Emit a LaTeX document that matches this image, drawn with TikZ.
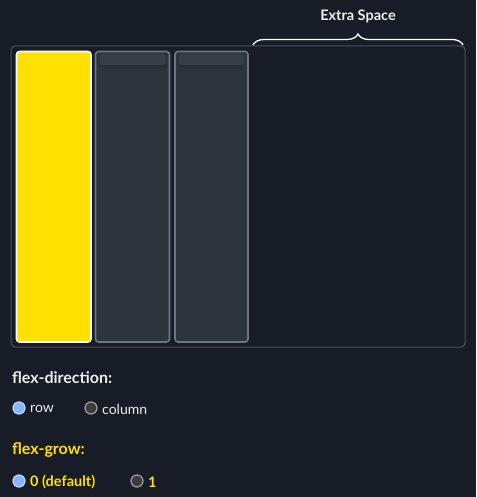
\documentclass[tikz,border=0pt]{standalone}
\usepackage{fontspec}
\setmainfont{Lato}
\usetikzlibrary{decorations.pathreplacing}
\definecolor{bg}{HTML}{171C27}
\definecolor{frame}{HTML}{4A525E}
\definecolor{boxfill}{HTML}{2E343E}
\definecolor{boxedge}{HTML}{6E7682}
\definecolor{yel}{HTML}{FFE000}
\definecolor{txt}{HTML}{EDEDED}
\definecolor{radiosel}{HTML}{8AB4F8}
\definecolor{radiooff}{HTML}{3C3C3C}
\tikzset{
  item/.style={draw=boxedge, line width=1.6pt, fill=boxfill, rounded corners=3pt},
  yitem/.style={draw=white, line width=1.6pt, fill=yel, rounded corners=3pt},
  lbl/.style={anchor=west, inner sep=0pt, font=\fontsize{14}{16}\selectfont, text=txt},
  ylbl/.style={anchor=west, inner sep=0pt, font=\fontsize{14.5}{17}\selectfont\bfseries, text=yel},
  head/.style={anchor=west, inner sep=0pt, font=\fontsize{16}{19}\selectfont\bfseries},
  radsel/.style={circle, draw=radiosel!55!white, line width=1.2pt, fill=radiosel, minimum size=12pt, inner sep=0pt},
  radoff/.style={circle, draw=gray!75, line width=1.2pt, fill=radiooff, minimum size=12pt, inner sep=0pt},
}
\begin{document}
\begin{tikzpicture}[x=1pt,y=-1pt]
\fill[bg] (0,0) rectangle (476,497);
\useasboundingbox (0,0) rectangle (476,497);
% container
\draw[frame, line width=1pt, rounded corners=4pt] (11,46) rectangle (465,347);
% items
\draw[yitem] (16.5,51.5) rectangle (91,342);
\draw[item] (95.5,51.5) rectangle (169.5,342);
\draw[item] (175,51.5) rectangle (248,342);
% top highlight
\foreach \xa/\xb in {96.5/168.5,176/247}{
  \fill[white, opacity=0.05, rounded corners=3pt] (\xa+3,54) rectangle (\xb-3,65);
  \fill[black, opacity=0.10] (\xa+3,65) rectangle (\xb-3,68);
}
% brace
\coordinate (b1) at (253,45);
\coordinate (b2) at (463,45);
\draw[white, line width=1.3pt, decorate, decoration={brace, amplitude=11pt, aspect=0.5}] (b1) -- (b2);
\node[font=\fontsize{14.5}{17}\selectfont\bfseries, text=txt, inner sep=0pt] (es) at (358,16) {Extra Space};
% controls
\node[head, text=txt] (fd) at (12,378) {flex-direction:};
\node[radsel] (r1) at (19,408) {};
\node[lbl] (row) at (30,409) {row};
\node[radoff] (r2) at (91,408) {};
\node[lbl] (col) at (102,409) {column};
\node[head, text=yel] (fg) at (12,450) {flex-grow:};
\node[radsel] (r3) at (19,481) {};
\node[ylbl] (g0) at (30,482) {0 (default)};
\node[radoff] (r4) at (137,481) {};
\node[ylbl] (g1) at (148,482) {1};
\end{tikzpicture}
\end{document}
